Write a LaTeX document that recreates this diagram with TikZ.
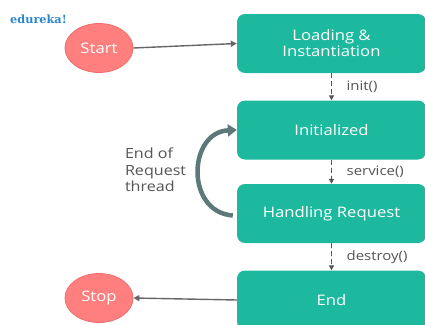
\documentclass[tikz,border=0pt]{standalone}
\usepackage{fontspec}
\setmainfont{Open Sans}[FakeStretch=1.15]
\newfontfamily\logofont{DejaVu Serif}
\usetikzlibrary{arrows.meta,shapes.geometric}
\definecolor{teal1}{HTML}{1DB99E}
\definecolor{salmon1}{HTML}{FF7F7F}
\definecolor{salmonb}{HTML}{EE6E6E}
\definecolor{arrowgray}{HTML}{666666}
\definecolor{labelgray}{HTML}{555555}
\definecolor{curvecol}{HTML}{5C7878}
\definecolor{logoblue}{HTML}{2B87C9}
\tikzset{
  statebox/.style={fill=teal1, rounded corners=8pt, minimum width=189pt, minimum height=59pt, inner sep=0pt, text=white, font=\fontsize{14.5}{16}\selectfont, align=center},
  terminal/.style={ellipse, fill=salmon1, draw=salmonb, line width=0.8pt, minimum width=68pt, minimum height=49pt, inner sep=0pt, text=white, font=\fontsize{14.5}{17}\selectfont},
  solidarrow/.style={draw=arrowgray, line width=1.4pt, -{Triangle[length=6pt,width=6pt]}},
  dasharrow/.style={draw=labelgray, line width=1.6pt, dash pattern=on 5pt off 3pt, -{Triangle[length=5pt,width=5pt]}},
  steplabel/.style={text=labelgray, font=\fontsize{13}{15}\selectfont, anchor=west},
}
\begin{document}
\begin{tikzpicture}[x=1pt,y=-1pt]
\useasboundingbox (0,0) rectangle (425,324);
\clip (0,0) rectangle (425,324);
\fill[white] (0,0) rectangle (425,324);
\node[text=logoblue, font=\logofont\bfseries\fontsize{11.3}{12}\selectfont, anchor=west, inner sep=0pt] (logo) at (10,19) {edureka!};
\node[terminal] (start) at (99,48) {Start};
\node[terminal] (stop) at (99,298) {Stop};
\node[statebox] (load) at (331.5,43.5) {Loading \&\\Instantiation};
\node[statebox] (init) at (331.5,130) {Initialized};
\node[statebox] (hand) at (331.5,213.5) {Handling Request};
\node[statebox] (end) at (331.5,300) {End};
\node[text=labelgray, font=\fontsize{14}{16.5}\selectfont, align=left, anchor=west] (eor) at (121.5,170) {End of\\Request\\thread};
\draw[solidarrow] (start.east) -- (load.west);
\draw[solidarrow] (end.west) -- (stop.east);
\draw[dasharrow] (load.south) -- node[steplabel, xshift=11pt] {init()} (init.north);
\draw[dasharrow] (init.south) -- node[steplabel, xshift=11pt] {service()} (hand.north);
\draw[dasharrow] (hand.south) -- node[steplabel, xshift=11pt] {destroy()} (end.north);
\coordinate (cs) at ([xshift=-4pt,yshift=-2pt]hand.west);
\draw[curvecol, line width=4.5pt, -{Triangle[length=9pt,width=12pt]}] (cs) .. controls (185,212) and (188,132) .. (init.west);
\end{tikzpicture}
\end{document}
